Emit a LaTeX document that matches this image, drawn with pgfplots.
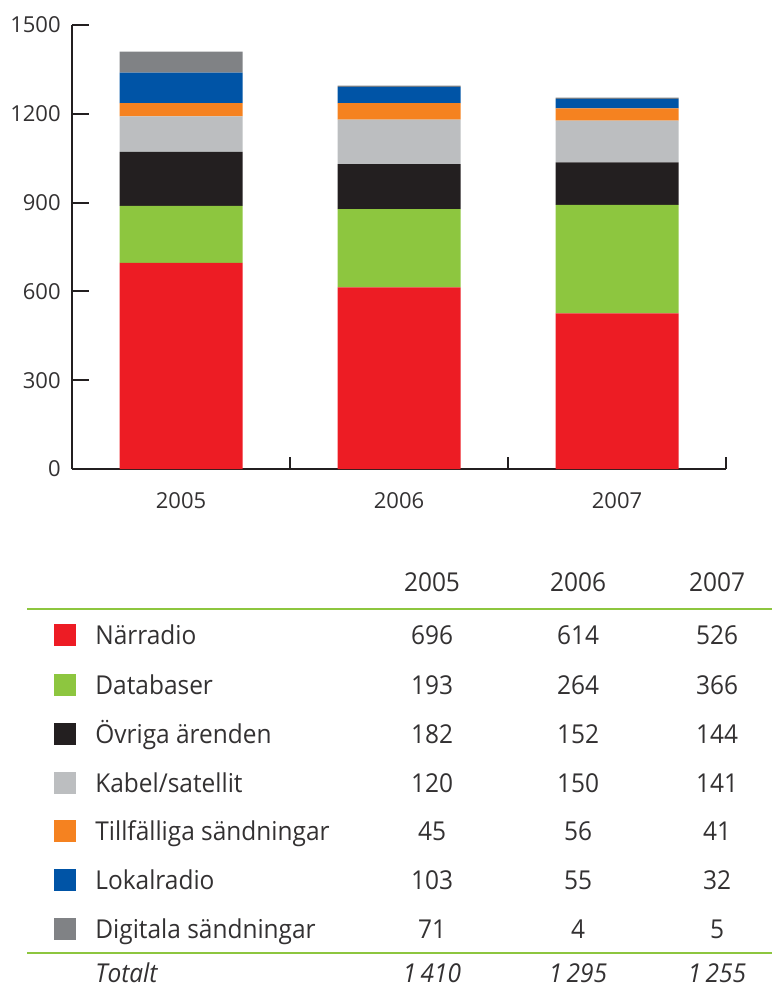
\documentclass[border=0pt]{standalone}
\usepackage{fontspec}
\setmainfont{Open Sans}
\newfontfamily\tabfont{Open Sans}[FakeStretch=0.94]
\usepackage{pgfplots}
\pgfplotsset{compat=1.18}
\definecolor{cRed}{HTML}{ED1C24}
\definecolor{cGreen}{HTML}{8DC63F}
\definecolor{cBlack}{HTML}{231F20}
\definecolor{cLGrey}{HTML}{BCBEC0}
\definecolor{cOrange}{HTML}{F58220}
\definecolor{cBlue}{HTML}{0054A6}
\definecolor{cGrey}{HTML}{808285}
\definecolor{txt}{HTML}{333132}
\begin{document}
\begin{tikzpicture}
\path[use as bounding box] (0,0) rectangle (386pt,-494.5pt);
\begin{axis}[
  at={(36pt,-234.5pt)}, anchor=south west,
  scale only axis, width=327pt, height=222pt,
  xmin=-0.5, xmax=2.5, ymin=0, ymax=1500,
  axis x line=bottom, axis y line=left,
  axis line style={-, line width=1pt, color=cBlack},
  ybar stacked, bar width=61.5pt,
  xtick={0,1,2}, xticklabels={2005,2006,2007},
  minor xtick={0.5,1.5,2.5},
  ytick={0,300,600,900,1200,1500},
  tick align=inside,
  major tick length=8.5pt, minor tick length=6pt,
  x tick style={draw=none},
  minor x tick style={draw=cBlack, line width=1pt},
  y tick style={draw=cBlack, line width=1pt},
  tick label style={font=\fontsize{11}{13}\selectfont, text=txt},
  /pgf/number format/assume math mode=true,
  /pgf/number format/1000 sep={},
  yticklabel style={anchor=east, inner sep=0pt, xshift=-5.5pt},
  xticklabel style={anchor=north, inner sep=0pt, yshift=-11.5pt},
  clip=false,
]
\addplot[fill=cRed, draw=none] coordinates {(0,696) (1,614) (2,526)};
\addplot[fill=cGreen, draw=none] coordinates {(0,193) (1,264) (2,366)};
\addplot[fill=cBlack, draw=none] coordinates {(0,182) (1,152) (2,144)};
\addplot[fill=cLGrey, draw=none] coordinates {(0,120) (1,150) (2,141)};
\addplot[fill=cOrange, draw=none] coordinates {(0,45) (1,56) (2,41)};
\addplot[fill=cBlue, draw=none] coordinates {(0,103) (1,55) (2,32)};
\addplot[fill=cGrey, draw=none] coordinates {(0,71) (1,4) (2,5)};
\end{axis}
\begin{scope}[x=0.5pt,y=-0.5pt, every node/.style={text=txt, font=\tabfont\fontsize{13}{15}\selectfont, anchor=base, inner sep=0pt}]
  % header
  \node at (432,591.5) {2005};
  \node at (578,591.5) {2006};
  \node at (717,591.5) {2007};
  \draw[cGreen, line width=0.8pt] (27,609) -- (772,609);
  \draw[cGreen, line width=0.8pt] (27,953) -- (772,953);
  % rows
  \foreach \yc/\col/\lab/\a/\b/\c in {
      635/cRed/Närradio/696/614/526,
      685/cGreen/Databaser/193/264/366,
      734/cBlack/Övriga ärenden/182/152/144,
      783/cLGrey/Kabel\slash satellit/120/150/141,
      831/cOrange/Tillfälliga sändningar/45/56/41,
      880/cBlue/Lokalradio/103/55/32,
      929/cGrey/Digitala sändningar/71/4/5} {
    \fill[\col] (54,\yc-11) rectangle (76,\yc+11);
    \node[anchor=base west] at (95,\yc+9.5) {\lab};
    \node at (432,\yc+9.5) {\a};
    \node at (578,\yc+9.5) {\b};
    \node at (717,\yc+9.5) {\c};
  }
  \node[anchor=base west] at (95,982) {\itshape Totalt};
  \node at (432,982) {\itshape 1\,410};
  \node at (578,982) {\itshape 1\,295};
  \node at (717,982) {\itshape 1\,255};
\end{scope}
\end{tikzpicture}
\end{document}
